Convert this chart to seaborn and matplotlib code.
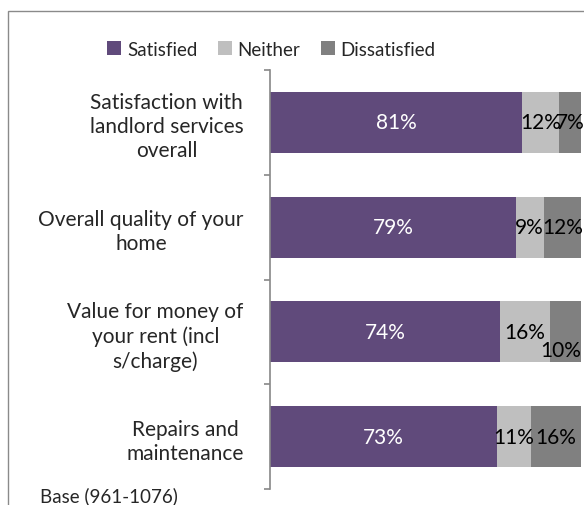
import matplotlib
matplotlib.use("Agg")
import matplotlib.pyplot as plt
import seaborn as sns
import pandas as pd
import numpy as np
from matplotlib.patches import Rectangle
from matplotlib.patches import Patch

categories = [
    "Satisfaction with\nlandlord services\noverall",
    "Overall quality of your\nhome",
    "Value for money of\nyour rent (incl\ns/charge)",
    "Repairs and\nmaintenance",
]
series = ["Satisfied", "Neither", "Dissatisfied"]
satisfied = [81, 79, 74, 73]
neither = [12, 9, 16, 11]
dissatisfied = [7, 12, 10, 16]
colors = ["#604A7B", "#BFBFBF", "#808080"]

sns.set_theme(style="white")
plt.rcParams["font.family"] = ["Lato", "DejaVu Sans"]

W, H = 584, 506
fig = plt.figure(figsize=(W / 100, H / 100), dpi=100)
ax = fig.add_axes([270 / W, (H - 490) / H, (581 - 270) / W, (490 - 71) / H])

df = pd.DataFrame({"category": categories, "Satisfied": satisfied,
                   "Neither": neither, "Dissatisfied": dissatisfied})
vals = df[series].to_numpy(dtype=float)
cum = np.cumsum(vals, axis=1)

# stacked bars: draw cumulative totals from the outermost segment inwards
for j in range(len(series) - 1, -1, -1):
    sns.barplot(x=cum[:, j], y=df["category"], orient="h", color=colors[j],
                width=0.58, saturation=1, ax=ax, edgecolor="none")

# data labels centred in each segment (one nudged to clear its neighbour)
label_shift = {(2, 2): (-1.6, 0.17)}
for i in range(len(categories)):
    for j in range(len(series)):
        left = cum[i, j] - vals[i, j]
        dx, dy = label_shift.get((i, j), (0, 0))
        xc = left + vals[i, j] / 2 + dx
        yc = i + dy
        ax.text(xc, yc, f"{int(vals[i, j])}%", ha="center", va="center",
                fontsize=15, color="white" if j == 0 else "black")

ax.set_xlim(0, 100)
ax.set_ylim(3.5, -0.5)
ax.set_xlabel("")
ax.set_ylabel("")
ax.set_xticks([])
for s in ["top", "right", "bottom"]:
    ax.spines[s].set_visible(False)
ax.spines["left"].set_color("#888888")
ax.spines["left"].set_linewidth(1.2)

ax.set_yticks(range(len(categories)))
ax.set_yticklabels(categories, fontsize=15, multialignment="center",
                   linespacing=1.25)
ax.set_yticks(np.arange(-0.5, len(categories), 1.0), minor=True)
ax.tick_params(axis="y", which="major", length=0, pad=19)
ax.tick_params(axis="y", which="minor", length=4, width=1.2, color="#888888",
               left=True)

handles = [Patch(facecolor=c, edgecolor="none", label=s) for s, c in zip(series, colors)]
fig.legend(handles=handles, loc="center", bbox_to_anchor=(0.465, 1 - 50 / H),
           ncol=3, frameon=False, fontsize=13.5, handlelength=0.75,
           handleheight=0.75, handletextpad=0.3, columnspacing=1.1)

fig.text(40 / W, 1 - 496 / H, "Base (961-1076)", fontsize=13.5, va="center", ha="left")

# outer chart frame
fig.patches.append(Rectangle((8 / W, -0.1), 1.2, 1 - 12 / H + 0.1,
                             transform=fig.transFigure, fill=False,
                             edgecolor="#8A8A8A", linewidth=1.0))

fig.savefig("out.png", dpi=100)
